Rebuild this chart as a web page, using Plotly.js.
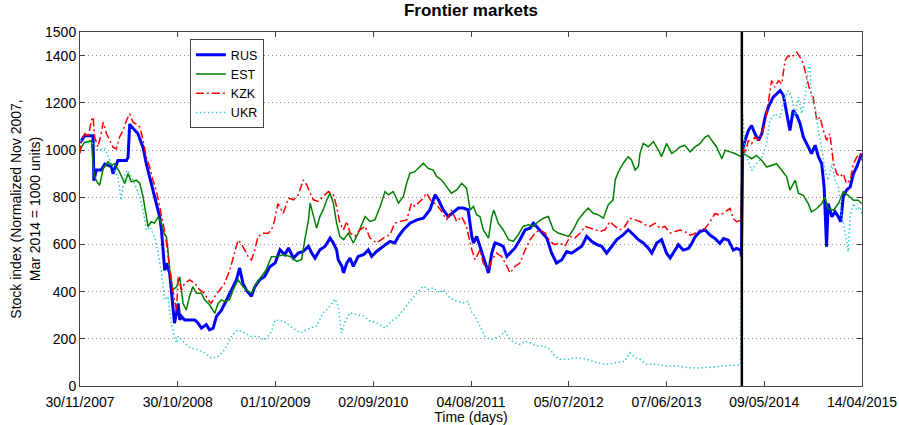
<!DOCTYPE html>
<html>
<head>
<meta charset="utf-8">
<script src="https://cdn.plot.ly/plotly-3.0.1.min.js"></script>
<style>html,body{margin:0;padding:0;background:#fff;}#chart{width:899px;height:425px;}</style>
</head>
<body>
<div id="chart"></div>
<script>
// Trading-day index (0 = 30/11/2007) and normalized index values
const rusDays = [0,11,32,34,40,52,61,77,81,93,114,118,122,126,142,155,163,171,179,187,196,200,204,208,212,220,224,232,237,241,245,249,257,282,290,298,310,318,327,335,347,359,372,384,392,400,408,421,429,441,453,466,479,491,503,512,524,536,548,561,569,577,589,602,614,622,630,634,643,647,655,663,671,683,696,708,716,728,745,761,773,782,794,810,827,843,859,872,880,892,904,917,929,941,953,962,966,974,982,994,1003,1011,1019,1031,1039,1048,1056,1068,1080,1093,1105,1113,1121,1134,1146,1158,1170,1183,1195,1207,1219,1232,1244,1256,1269,1281,1293,1305,1318,1334,1346,1359,1371,1383,1395,1404,1416,1428,1440,1449,1461,1469,1481,1494,1502,1510,1522,1535,1547,1559,1571,1580,1592,1604,1612,1622,1624,1627,1633,1641,1649,1657,1666,1674,1682,1690,1702,1711,1719,1727,1735,1743,1751,1760,1768,1776,1788,1796,1805,1813,1821,1827,1833,1837,1846,1854,1862,1868,1874,1882,1891,1899,1907,1915,1919];
const rusValues = [1030,1060,1060,870,915,915,940,930,900,955,955,970,1110,1100,1070,1010,940,885,830,770,715,660,590,490,520,480,410,266,310,350,280,295,280,280,266,245,260,238,245,295,320,365,407,450,500,435,407,380,420,450,463,505,521,577,556,585,542,563,570,592,563,542,577,592,627,606,577,535,507,479,521,542,507,549,556,577,549,570,592,613,606,634,662,690,704,711,746,810,789,746,718,739,754,754,746,634,606,634,592,535,479,563,606,599,592,549,563,585,620,662,669,690,676,648,627,563,521,535,570,563,577,592,634,613,599,592,563,592,620,641,662,641,620,606,585,563,606,620,563,542,577,599,576,583,604,632,654,661,639,625,604,625,618,576,583,576,548,1000,1041,1083,1104,1069,1041,1069,1139,1182,1224,1238,1252,1231,1154,1083,1168,1146,1111,1055,1013,985,1020,971,942,844,590,773,717,738,717,696,801,830,844,900,928,971,985];

const estDays = [0,10,28,34,40,48,57,69,77,85,97,110,118,126,138,147,155,163,167,175,183,192,200,206,212,216,220,228,237,245,253,261,269,277,286,298,306,318,331,339,347,355,367,376,388,400,408,421,433,445,457,470,483,499,516,532,544,552,561,565,573,581,589,597,606,614,622,630,638,647,659,671,683,700,712,724,737,749,757,769,782,794,802,810,822,835,843,855,867,876,888,900,912,925,937,949,958,966,974,982,990,1003,1011,1016,1027,1039,1052,1064,1076,1088,1101,1113,1125,1138,1150,1162,1174,1187,1199,1211,1223,1236,1248,1260,1273,1285,1297,1309,1314,1322,1334,1346,1354,1363,1371,1375,1383,1395,1408,1420,1428,1440,1453,1465,1473,1485,1498,1510,1522,1535,1543,1551,1563,1576,1584,1596,1608,1622,1627,1637,1649,1661,1674,1686,1698,1710,1723,1735,1743,1756,1764,1776,1788,1796,1809,1821,1829,1837,1850,1862,1874,1886,1899,1911,1919];
const estValues = [1000,1030,1040,900,870,850,920,950,935,942,907,858,900,865,872,858,800,717,675,696,690,717,690,647,633,576,492,407,420,463,350,322,380,421,393,393,365,344,308,350,365,358,365,407,450,421,407,393,435,463,492,548,549,556,549,528,535,620,704,775,718,669,718,746,789,817,775,690,634,620,648,606,648,718,697,704,761,824,810,824,775,803,859,901,908,930,944,922,915,887,873,845,817,831,859,838,746,761,725,718,662,627,718,746,690,662,620,613,641,676,683,676,697,711,718,662,648,641,634,662,704,732,754,732,725,711,768,789,873,908,944,972,958,915,930,986,1028,1014,1035,1000,972,1028,986,1000,1013,1020,992,1013,1027,1055,1062,1041,1013,963,999,992,985,973,985,977,963,977,956,928,935,942,914,886,830,872,816,808,773,738,752,773,801,752,745,773,823,808,787,787,773];

const kzkDays = [0,3,12,20,28,32,36,44,52,57,65,73,81,89,97,106,114,122,130,138,147,155,163,171,179,187,196,204,210,216,224,232,237,241,249,257,269,282,294,306,314,322,331,343,355,368,380,388,396,404,413,421,429,437,449,462,470,478,486,499,512,524,536,548,557,565,573,585,597,610,622,630,638,647,655,663,675,687,700,712,728,745,761,773,786,802,814,822,839,851,863,876,888,900,912,925,937,949,962,970,982,990,1003,1011,1023,1035,1048,1056,1068,1080,1093,1105,1117,1129,1142,1154,1166,1178,1191,1203,1215,1228,1240,1252,1264,1277,1289,1301,1314,1326,1338,1350,1363,1375,1387,1399,1412,1424,1436,1449,1461,1473,1485,1498,1510,1522,1535,1547,1559,1571,1584,1596,1604,1612,1622,1627,1633,1641,1649,1657,1666,1674,1682,1690,1698,1706,1715,1723,1731,1739,1747,1760,1768,1776,1784,1792,1800,1809,1817,1825,1833,1841,1850,1858,1866,1874,1882,1891,1899,1907,1915,1919];
const kzkValues = [985,1040,1070,1055,1125,1140,1055,1012,1070,1118,1070,1040,1012,1005,1055,1083,1125,1153,1118,1110,1097,1040,970,928,872,830,760,690,633,548,450,365,322,463,407,435,450,435,407,393,365,351,379,407,435,492,562,618,604,576,548,534,576,633,647,647,661,703,773,732,796,789,810,873,852,817,789,782,803,824,810,761,690,662,697,648,634,662,676,627,606,627,641,690,697,704,775,761,789,817,782,768,739,704,746,697,718,676,577,535,577,521,493,535,563,549,507,479,507,521,577,620,648,662,648,613,599,606,592,634,627,648,676,669,662,655,662,697,676,662,676,711,704,697,683,676,690,669,676,648,655,661,654,639,646,661,668,696,731,724,738,752,710,696,703,1013,985,1041,1027,1055,1041,1069,1111,1196,1294,1266,1294,1280,1379,1400,1393,1414,1393,1365,1308,1252,1224,1125,1139,1083,1041,1069,942,900,886,900,858,872,942,970,985,956];

const ukrDays = [0,32,44,61,77,93,101,110,118,126,134,147,155,163,171,183,192,200,208,216,224,232,237,241,257,273,290,306,322,339,355,372,388,404,421,437,454,470,479,499,516,540,565,581,597,614,626,634,642,651,663,679,696,712,728,749,765,782,794,810,827,843,855,867,884,892,908,925,941,953,962,970,982,994,1007,1019,1031,1043,1056,1068,1080,1093,1105,1121,1138,1154,1166,1178,1195,1219,1244,1268,1293,1318,1338,1350,1363,1375,1391,1416,1440,1465,1490,1520,1550,1580,1600,1622,1627,1633,1637,1649,1661,1674,1686,1694,1706,1719,1731,1739,1747,1756,1764,1772,1780,1788,1792,1796,1805,1813,1821,1829,1837,1846,1854,1862,1870,1878,1886,1891,1899,1907,1915,1919];
const ukrValues = [1040,1027,1000,1006,942,885,787,900,914,885,858,800,745,660,675,633,562,478,365,380,266,210,182,210,182,160,154,140,118,125,154,210,238,224,210,210,195,230,280,275,254,225,246,254,310,338,369,338,225,275,310,303,296,275,268,246,275,296,324,359,394,423,409,416,394,409,373,359,352,359,310,296,254,211,197,204,211,232,197,183,176,190,183,169,169,155,127,113,113,120,113,99,92,99,106,141,120,113,92,92,85,85,78,76,80,82,86,90,1154,1000,970,914,942,970,1027,1125,1154,1139,1224,1252,1224,1139,1224,1154,1224,1337,1365,1224,1182,1083,1013,914,872,942,872,844,717,661,569,717,773,745,759,731];

const seriesNames = ['RUS','EST','KZK','UKR'];
const tickDays = [0,240,480,720,960,1200,1440,1680,1920];
const tickLabels = ['30/11/2007','30/10/2008','01/10/2009','02/09/2010','04/08/2011','05/07/2012','07/06/2013','09/05/2014','14/04/2015'];
const yTicks = [0,200,400,600,800,1000,1200,1400,1500];
const breakDay = 1625; // renormalization date (Mar 2014)

const FONT = 'Liberation Sans, Arial, Helvetica, sans-serif';

const traces = [
  {x: rusDays, y: rusValues, name: seriesNames[0], type: 'scatter', mode: 'lines',
   line: {color: '#0000FF', width: 3}},
  {x: estDays, y: estValues, name: seriesNames[1], type: 'scatter', mode: 'lines',
   line: {color: '#008000', width: 1.5}},
  {x: kzkDays, y: kzkValues, name: seriesNames[2], type: 'scatter', mode: 'lines',
   line: {color: '#FF0000', width: 1.5, dash: '8px,3px,2px,3px'}},
  {x: ukrDays, y: ukrValues, name: seriesNames[3], type: 'scatter', mode: 'lines',
   line: {color: '#2ECCCC', width: 1.5, dash: '1.5px,2.5px'}}
];

const axisCommon = {
  showline: true, linecolor: '#444', linewidth: 1, mirror: 'ticks',
  ticks: 'inside', ticklen: 5, tickcolor: '#444',
  tickfont: {family: FONT, size: 14, color: '#000'},
  zeroline: false
};

const layout = {
  width: 899, height: 425,
  margin: {l: 80, r: 37, t: 32, b: 39},
  paper_bgcolor: '#fff', plot_bgcolor: '#fff',
  font: {family: FONT, size: 14, color: '#000'},
  title: {text: '<b>Frontier markets</b>', font: {family: FONT, size: 17, color: '#000'},
          xref: 'paper', x: 0.5, xanchor: 'center', yref: 'container', y: 0.976, yanchor: 'middle'},
  xaxis: Object.assign({}, axisCommon, {
    range: [0, 1920], tickmode: 'array', tickvals: tickDays, ticktext: tickLabels,
    showgrid: false, ticklabelstandoff: 3,
    title: {text: 'Time (days)', font: {family: FONT, size: 14, color: '#000'}, standoff: 0}
  }),
  yaxis: Object.assign({}, axisCommon, {
    range: [0, 1500], tickmode: 'array', tickvals: yTicks,
    showgrid: true, gridcolor: '#8a8a8a', griddash: '1px,3px', gridwidth: 1,
    title: {text: 'Stock index (Normalized Nov 2007,<br>Mar 2014 = 1000 units)',
            font: {family: FONT, size: 14, color: '#000'}, standoff: 1}
  }),
  legend: {
    x: 0.1405, y: 0.980, xanchor: 'left', yanchor: 'top',
    bgcolor: '#fff', bordercolor: '#444', borderwidth: 1,
    font: {family: FONT, size: 12.5, color: '#000'},
    itemwidth: 30, tracegroupgap: 0
  },
  shapes: [{type: 'line', xref: 'x', yref: 'paper', x0: breakDay, x1: breakDay, y0: 0, y1: 1,
            line: {color: '#000', width: 2.5}}],
  showlegend: true
};

Plotly.newPlot('chart', traces, layout, {displayModeBar: false, staticPlot: true});
</script>
</body>
</html>
